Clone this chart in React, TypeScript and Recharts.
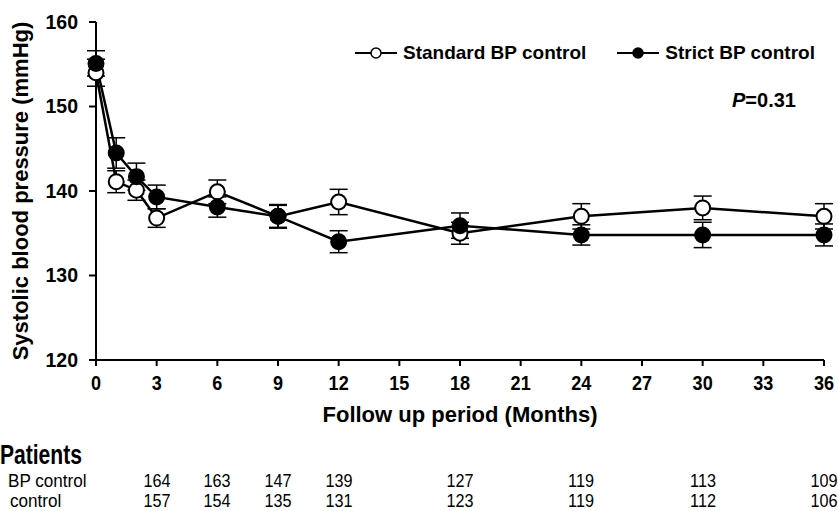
import { CartesianGrid, ErrorBar, Line, LineChart, XAxis, YAxis } from "recharts";

// follow-up visits (months)
const months = [0, 1, 2, 3, 6, 9, 12, 18, 24, 30, 36];
const standardBP = [154.0, 141.1, 140.1, 136.8, 139.9, 137.0, 138.7, 135.0, 137.0, 138.0, 137.0];
const strictBP = [155.1, 144.5, 141.7, 139.3, 138.1, 137.0, 134.0, 135.9, 134.8, 134.8, 134.8];
const standardSE = [1.6, 1.3, 1.2, 1.1, 1.4, 1.3, 1.5, 1.3, 1.5, 1.4, 1.5];
const strictSE = [1.5, 1.8, 1.6, 1.4, 1.2, 1.4, 1.3, 1.5, 1.2, 1.5, 1.3];

const xTicks = [0, 3, 6, 9, 12, 15, 18, 21, 24, 27, 30, 33, 36];
const yTicks = [120, 130, 140, 150, 160];

// patients at risk table
const tableMonths = [3, 6, 9, 12, 18, 24, 30, 36];
const standardPatients = [164, 163, 147, 139, 127, 119, 113, 109];
const strictPatients = [157, 154, 135, 131, 123, 119, 112, 106];
const tableRowLabels = ["BP control", "control"];

const series = [
  { key: "standard", err: "standardErr", name: "Standard BP control", fill: "#fff" },
  { key: "strict", err: "strictErr", name: "Strict BP control", fill: "#000" },
];

const data = months.map((m, i) => ({
  month: m,
  standard: standardBP[i],
  standardErr: standardSE[i],
  strict: strictBP[i],
  strictErr: strictSE[i],
}));

const W = 838;
const H = 511;
const PLOT_LEFT = 96;
const PLOT_RIGHT = 824;
const xPos = (m: number) => PLOT_LEFT + (m / 36) * (PLOT_RIGHT - PLOT_LEFT);
const rowTops = [470.5, 490.7];

function XTick(props: any) {
  const { x, y, payload } = props;
  return (
    <g transform={`translate(${x},${y + 22})`}>
      <text transform="scale(0.86,1)" textAnchor="middle" fontSize={21} fontWeight="bold" fill="#000">
        {payload.value}
      </text>
    </g>
  );
}

function LegendMarker({ fill }: { fill: string }) {
  return (
    <svg width={42} height={20} style={{ display: "block" }}>
      <line x1={0} y1={10} x2={42} y2={10} stroke="#000" strokeWidth={2} />
      <circle cx={21} cy={10} r={5} fill={fill} stroke="#000" strokeWidth={1.5} />
    </svg>
  );
}

export default function App() {
  const rows = [standardPatients, strictPatients];
  return (
    <div
      style={{
        position: "absolute",
        left: 0,
        top: 0,
        width: W,
        height: H,
        background: "#fff",
        fontFamily: "'Liberation Sans', Arial, sans-serif",
        color: "#000",
        overflow: "hidden",
      }}
    >
      <LineChart width={W} height={H} data={data} margin={{ top: 22, right: 14, left: 0, bottom: 81 }}>
        <CartesianGrid stroke="none" />
        <XAxis
          dataKey="month"
          type="number"
          domain={[0, 36]}
          ticks={xTicks}
          interval={0}
          tickSize={6}
          tickMargin={2}
          height={70}
          axisLine={{ stroke: "#000", strokeWidth: 2 }}
          tickLine={{ stroke: "#000", strokeWidth: 2 }}
          tick={<XTick />}
          label={{
            value: "Follow up period (Months)",
            position: "insideBottom",
            offset: 8,
            style: { fontSize: 22, fontWeight: "bold", fill: "#000" },
          }}
        />
        <YAxis
          domain={[120, 160]}
          ticks={yTicks}
          width={96}
          tickSize={7}
          tickMargin={11}
          axisLine={{ stroke: "#000", strokeWidth: 2 }}
          tickLine={{ stroke: "#000", strokeWidth: 2 }}
          tick={{ fontSize: 19.5, fontWeight: "bold", fill: "#000" }}
          label={{
            value: "Systolic blood pressure (mmHg)",
            angle: -90,
            position: "insideLeft",
            offset: 20,
            style: { fontSize: 22, fontWeight: "bold", fill: "#000", textAnchor: "middle" },
          }}
        />
        {series.map((s) => (
          <Line
            key={s.key}
            dataKey={s.key}
            name={s.name}
            stroke="#000"
            strokeWidth={2.5}
            dot={{ r: 7.5, fill: s.fill, stroke: "#000", strokeWidth: 2 }}
            activeDot={false}
            isAnimationActive={false}
          >
            <ErrorBar dataKey={s.err} width={9} stroke="#000" strokeWidth={1.5} direction="y" />
          </Line>
        ))}
      </LineChart>

      {/* legend */}
      <div
        style={{
          position: "absolute",
          top: 43,
          left: 355,
          display: "flex",
          alignItems: "center",
          fontSize: 19,
          fontWeight: "bold",
          lineHeight: "20px",
          whiteSpace: "nowrap",
        }}
      >
        {series.map((s, i) => (
          <div key={s.key} style={{ display: "flex", alignItems: "center", marginRight: i === 0 ? 31 : 0 }}>
            <LegendMarker fill={s.fill} />
            <span style={{ marginLeft: 6 }}>{s.name}</span>
          </div>
        ))}
      </div>

      {/* p value */}
      <div style={{ position: "absolute", top: 90, left: 732, fontSize: 20, fontWeight: "bold", lineHeight: "20px" }}>
        <i>P</i>=0.31
      </div>

      {/* patients table */}
      <div
        style={{
          position: "absolute",
          top: 440.2,
          left: 0,
          fontSize: 27,
          fontWeight: "bold",
          lineHeight: "30px",
          transform: "scaleX(0.78)",
          transformOrigin: "left",
        }}
      >
        Patients
      </div>
      {rows.map((vals, r) => (
        <div key={r}>
          <div
            style={{
              position: "absolute",
              top: rowTops[r],
              left: r === 0 ? 8 : 10,
              fontSize: 18,
              lineHeight: "20px",
              whiteSpace: "nowrap",
              transform: "scaleX(0.95)",
              transformOrigin: "left",
            }}
          >
            {tableRowLabels[r]}
          </div>
          {vals.map((v, i) => (
            <div
              key={i}
              style={{
                position: "absolute",
                top: rowTops[r],
                left: xPos(tableMonths[i]),
                fontSize: 18,
                lineHeight: "20px",
                whiteSpace: "nowrap",
                transform: "translateX(-50%) scaleX(0.9)",
              }}
            >
              {v}
            </div>
          ))}
        </div>
      ))}
    </div>
  );
}
